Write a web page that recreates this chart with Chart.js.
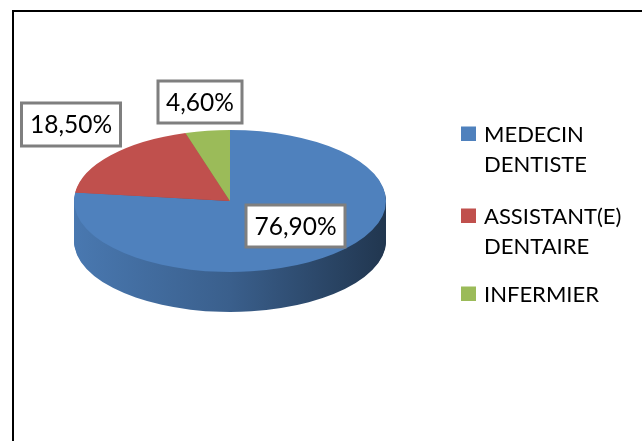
<!DOCTYPE html>
<html>
<head>
<meta charset="utf-8">
<script src="https://cdn.jsdelivr.net/npm/chart.js@4.4.1/dist/chart.umd.min.js"></script>
<style>
  html, body { margin: 0; padding: 0; background: #fff; }
  #wrap { width: 642px; height: 441px; }
</style>
</head>
<body>
<div id="wrap"><canvas id="canvas" width="642" height="441"></canvas></div>
<script>
// categories (each line of a legend entry)
var categories = [["MEDECIN", "DENTISTE"], ["ASSISTANT(E)", "DENTAIRE"], ["INFERMIER"]];
// share of each category, in percent
var shares = [76.9, 18.5, 4.6];
var sliceColors = ["#4F81BD", "#C0504D", "#9BBB59"];

var FONT = "Lato, 'Open Sans', sans-serif";

function shade(hex, f) {
    var n = parseInt(hex.slice(1), 16);
    var r = Math.round(((n >> 16) & 255) * f);
    var g = Math.round(((n >> 8) & 255) * f);
    var b = Math.round((n & 255) * f);
    return "rgb(" + r + "," + g + "," + b + ")";
}

function pctText(v) {
    return v.toFixed(2).replace(".", ",") + "%";
}

// outer frame of the picture
var framePlugin = {
    id: "frame",
    beforeDraw: function(chart) {
        var ctx = chart.ctx;
        ctx.save();
        ctx.fillStyle = "#fff";
        ctx.fillRect(0, 0, chart.width, chart.height);
        ctx.strokeStyle = "#000";
        ctx.lineWidth = 2;
        ctx.strokeRect(13, 11, 700, 500);
        ctx.restore();
    }
};

// tilt the pie and give it a side wall
var pie3dPlugin = {
    id: "pie3d",
    beforeDatasetsDraw: function(chart, args, opts) {
        var ctx = chart.ctx;
        var meta = chart.getDatasetMeta(0);
        var a0 = meta.data[0];
        var cx = a0.x, cy = a0.y, r = a0.outerRadius;
        var k = opts.tilt;

        var grads = meta.data.map(function(arc, i) {
            var g = ctx.createLinearGradient(cx - r, 0, cx + r, 0);
            var c = sliceColors[i];
            g.addColorStop(0, shade(c, 0.93));
            g.addColorStop(0.5, shade(c, 0.74));
            g.addColorStop(1, shade(c, 0.42));
            return g;
        });

        ctx.save();
        for (var o = opts.depth; o > 0; o--) {
            ctx.save();
            ctx.translate(0, o + cy);
            ctx.scale(1, k);
            ctx.translate(0, -cy);
            meta.data.forEach(function(arc, i) {
                var saved = arc.options;
                arc.options = Object.assign({}, saved, { backgroundColor: grads[i] });
                arc.draw(ctx);
                arc.options = saved;
            });
            ctx.restore();
        }
        ctx.translate(0, cy);
        ctx.scale(1, k);
        ctx.translate(0, -cy);
    },
    afterDatasetsDraw: function(chart) {
        chart.ctx.restore();
    }
};

// boxed percentage labels
var boxLabelPlugin = {
    id: "boxLabels",
    afterDraw: function(chart, args, opts) {
        var ctx = chart.ctx;
        var vals = chart.data.datasets[0].data;
        ctx.save();
        ctx.font = opts.fontSize + "px " + FONT;
        ctx.textAlign = "center";
        ctx.textBaseline = "middle";
        opts.boxes.forEach(function(b, i) {
            ctx.fillStyle = "#fff";
            ctx.fillRect(b[0] - b[2] / 2, b[1] - b[3] / 2, b[2], b[3]);
            ctx.strokeStyle = "#7F7F7F";
            ctx.lineWidth = 3;
            ctx.strokeRect(b[0] - b[2] / 2, b[1] - b[3] / 2, b[2], b[3]);
            ctx.fillStyle = "#000";
            ctx.fillText(pctText(vals[i]), b[0], b[1] + 1);
        });
        ctx.restore();
    }
};

// legend on the right, with wrapped names
var sideLegendPlugin = {
    id: "sideLegend",
    afterDraw: function(chart, args, opts) {
        var ctx = chart.ctx;
        var labels = chart.data.labels;
        var colors = chart.data.datasets[0].backgroundColor;
        ctx.save();
        ctx.font = opts.fontSize + "px " + FONT;
        ctx.textAlign = "left";
        ctx.textBaseline = "alphabetic";
        labels.forEach(function(lab, i) {
            var base = opts.baselines[i];
            ctx.fillStyle = colors[i];
            ctx.fillRect(opts.boxX, base - 15.5, 15, 14.5);
            ctx.fillStyle = "#000";
            lab.forEach(function(line, j) {
                ctx.fillText(line, opts.textX, base + j * opts.lineHeight);
            });
        });
        ctx.restore();
    }
};

window.onload = function() {
    var ctx = document.getElementById("canvas").getContext("2d");
    window.myPie = new Chart(ctx, {
        type: "pie",
        data: {
            labels: categories,
            datasets: [{
                data: shares,
                backgroundColor: sliceColors,
                borderWidth: 0
            }]
        },
        options: {
            responsive: false,
            animation: false,
            events: [],
            layout: { padding: { left: 74, right: 256, top: 45, bottom: 84 } },
            plugins: {
                legend: { display: false },
                tooltip: { enabled: false },
                pie3d: { tilt: 71 / 156, depth: 40 },
                boxLabels: {
                    fontSize: 24.5,
                    boxes: [[295.5, 226, 99, 42], [71, 124.5, 99, 43], [200, 102, 84, 42]]
                },
                sideLegend: {
                    fontSize: 22,
                    boxX: 461,
                    textX: 484,
                    lineHeight: 30,
                    baselines: [142, 224, 302]
                }
            }
        },
        plugins: [framePlugin, pie3dPlugin, boxLabelPlugin, sideLegendPlugin]
    });
};
</script>
</body>
</html>
